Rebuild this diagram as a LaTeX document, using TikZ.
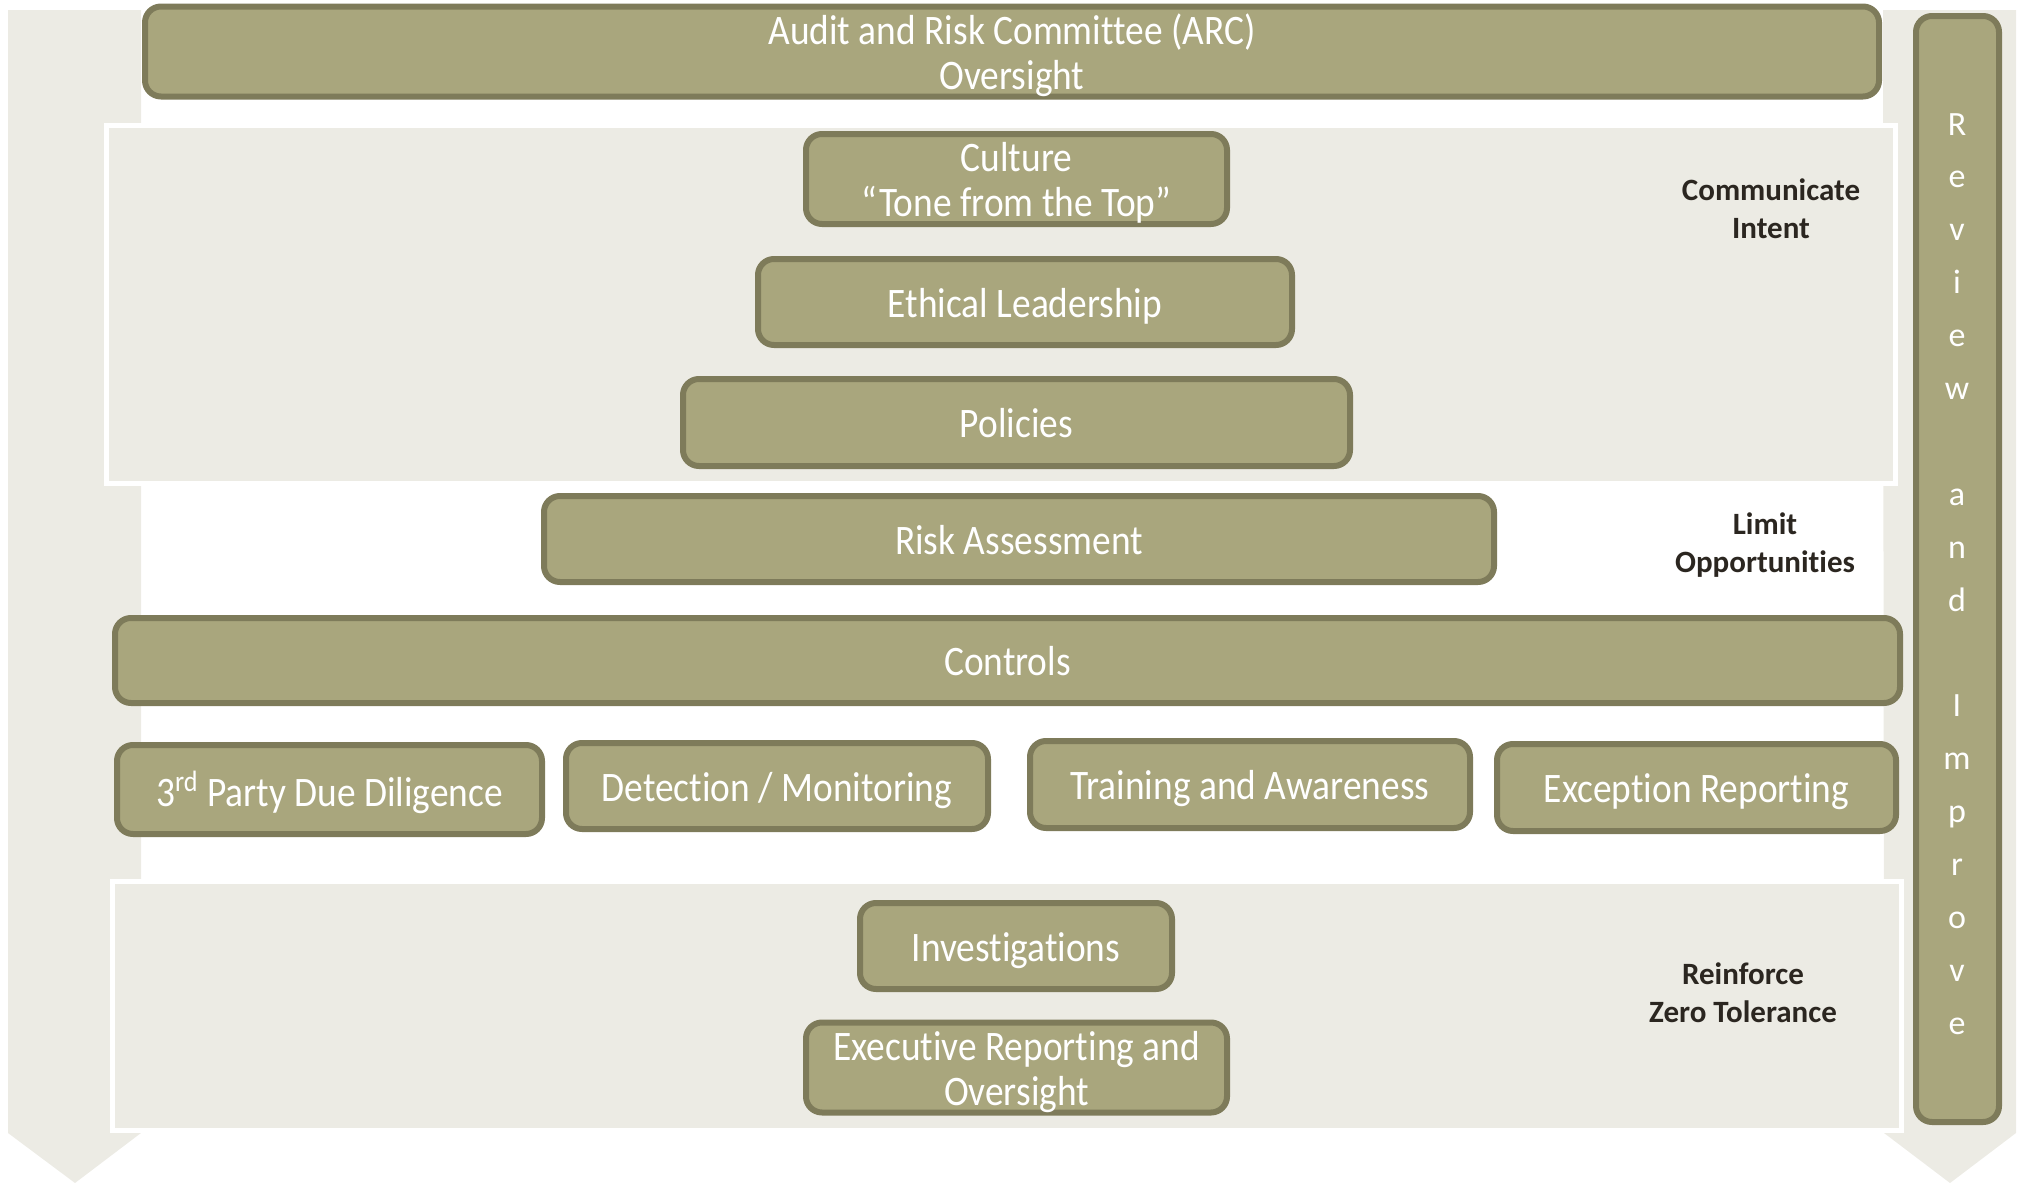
\documentclass[tikz,border=0pt]{standalone}
\usepackage{fontspec}
\setmainfont{Carlito}[Ligatures={NoCommon,NoRequired},Contextuals=NoAlternate]
\newfontfamily\boxfont{Carlito}[FakeStretch=0.89,Ligatures={NoCommon,NoRequired},Contextuals=NoAlternate]
\definecolor{boxfill}{HTML}{A9A67D}
\definecolor{boxline}{HTML}{7E7B5A}
\definecolor{panelgrey}{HTML}{ECEBE4}
\definecolor{lbltext}{HTML}{2B2620}
\newcommand\bx[6]{\node[bbox, minimum width={(#4-#2-6)*0.5pt}, minimum height={(#5-#3-6)*0.5pt}] (#1) at ({(#2+#4)/2},{(#3+#5)/2}) {\raisebox{-3.2pt}[\height][\depth]{\begin{tabular}{@{}c@{}}#6\end{tabular}}};}
\begin{document}
\begin{tikzpicture}[x=0.5pt,y=-0.5pt,
  bbox/.style={draw=boxline, fill=boxfill, line width=3pt, rounded corners=8pt, text=white, align=center, inner sep=0pt, font=\boxfont\fontsize{21}{22.5}\selectfont},
  lblstyle/.style={text=lbltext, align=center, font=\bfseries\fontsize{15.5}{19}\selectfont},
  revletter/.style={text=white, inner sep=0pt, anchor=base, font=\fontsize{17}{17}\selectfont},
  bgarrow/.style={fill=panelgrey, draw=none},
  panelbox/.style={fill=panelgrey, draw=white, line width=2.5pt}]
\useasboundingbox (0,0) rectangle (2020,1183);
% background arrows
\fill[bgarrow] (8,10) -- (141,10) -- (141,1133) -- (75,1183) -- (8,1133) -- cycle;
\fill[bgarrow] (1883,10) -- (2016,10) -- (2016,1133) -- (1950,1183) -- (1884,1133) -- cycle;
% panels
\draw[panelbox] (106.5,125.5) rectangle (1895.5,483.5);
\draw[panelbox] (112.5,881.5) rectangle (1901.5,1130.5);
% boxes
\bx{arc}{142}{4}{1882}{99}{Audit and Risk Committee (ARC)\\Oversight}
\bx{culture}{803}{133}{1230}{225}{Culture\\“Tone from the Top”}
\bx{ethics}{755}{256}{1295}{348}{Ethical Leadership}
\bx{policies}{680}{376}{1353}{469}{Policies}
\bx{risk}{541}{493}{1497}{585}{Risk Assessment}
\bx{controls}{112}{615}{1903}{706}{Controls}
\bx{thirdparty}{114}{742}{545}{837}{3\textsuperscript{rd} Party Due Diligence}
\bx{detection}{563}{740}{991}{832}{Detection / Monitoring}
\bx{training}{1027}{738}{1473}{831}{Training and Awareness}
\bx{exception}{1494}{741}{1899}{834}{Exception Reporting}
\bx{investigations}{857}{900}{1175}{992}{Investigations}
\bx{executive}{803}{1022}{1230}{1113}{Executive Reporting and\\Oversight}
\node[bbox, minimum width={(2002-1913-6)*0.5pt}, minimum height={(1125-13-6)*0.5pt}] (review) at ({(1913+2002)/2},{(13+1125)/2}) {};
% side labels
\node[lblstyle] (commintent) at (1771,209) {Communicate\\Intent};
\node[lblstyle] (limitopp) at (1765,545) {Limit\\Opportunities};
\node[lblstyle] (reinforce) at (1743,993) {Reinforce\\Zero Tolerance};
% vertical letters
\foreach \l/\i in {R/0,e/1,v/2,i/3,e/4,w/5,a/7,n/8,d/9,I/11,m/12,p/13,r/14,o/15,v/16,e/17}
  \node[revletter] (rv\i) at (1957,{135+52.9*\i}) {\l};
\end{tikzpicture}
\end{document}
